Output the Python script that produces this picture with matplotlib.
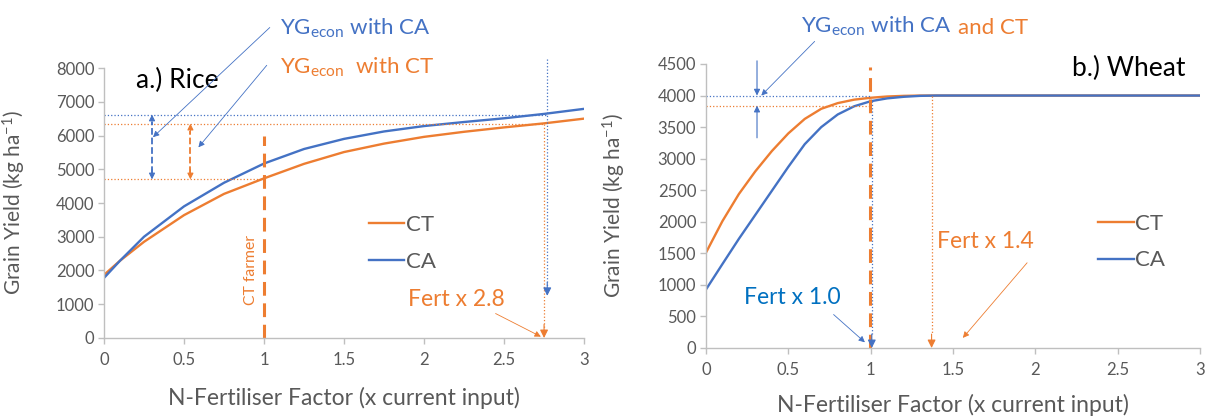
import numpy as np
import matplotlib
matplotlib.use("Agg")
import matplotlib.pyplot as plt

plt.rcParams['font.family'] = ['Lato', 'DejaVu Sans']
plt.rcParams['mathtext.fontset'] = 'custom'
plt.rcParams['mathtext.rm'] = 'Lato'
plt.rcParams['mathtext.default'] = 'regular'

# ---- data ----
rice_x = [0, 0.1, 0.25, 0.5, 0.75, 1, 1.25, 1.5, 1.75, 2, 2.25, 2.5, 2.75, 3]
rice_ct = [1870, 2290, 2850, 3640, 4270, 4730, 5160, 5510, 5760, 5960, 6110, 6240, 6360, 6500]
rice_ca = [1780, 2290, 3000, 3900, 4600, 5170, 5600, 5900, 6120, 6280, 6400, 6510, 6640, 6790]

wheat_x = [0, 0.1, 0.2, 0.3, 0.4, 0.5, 0.6, 0.7, 0.8, 0.9, 1.0, 1.1, 1.2, 1.3, 1.4, 1.5, 2, 2.5, 3]
wheat_ct = [1510, 2010, 2440, 2800, 3120, 3400, 3630, 3790, 3880, 3935, 3965, 3985, 3995, 4000,
            4000, 4000, 4000, 4000, 4000]
wheat_ca = [926, 1330, 1730, 2110, 2490, 2870, 3230, 3500, 3700, 3830, 3910, 3955, 3980, 3995,
            4000, 4000, 4000, 4000, 4000]

ORANGE = '#ED7D31'
BLUE = '#4472C4'
BLUE2 = '#0070C0'
GREY = '#595959'
AXC = '#bfbfbf'

fig = plt.figure(figsize=(12.08, 4.18), dpi=100)
ax1 = fig.add_axes([0.0861, 0.1914, 0.3974, 0.6459])
ax2 = fig.add_axes([0.5844, 0.1675, 0.4090, 0.6794])


def style(ax, ymax, ystep):
    ax.set_xlim(0, 3)
    ax.set_ylim(0, ymax)
    ax.set_xticks([0, 0.5, 1, 1.5, 2, 2.5, 3])
    ax.set_xticklabels(['0', '0.5', '1', '1.5', '2', '2.5', '3'])
    ax.set_yticks(np.arange(0, ymax + 1, ystep))
    for s in ['top', 'right']:
        ax.spines[s].set_visible(False)
    for s in ['left', 'bottom']:
        ax.spines[s].set_color(AXC)
        ax.spines[s].set_linewidth(1)
    ax.tick_params(axis='both', colors=AXC, labelcolor=GREY, labelsize=12, length=4, width=1)
    ax.tick_params(axis='x', pad=6)
    ax.tick_params(axis='y', pad=3)
    ax.set_xlabel('N-Fertiliser Factor (x current input)', fontsize=16.5, color=GREY)
    ax.set_ylabel('Grain Yield (kg ha$^{-1}$)', fontsize=15, color=GREY)


def head(ax, x, y, dx, dy, color, ms=12):
    ax.annotate('', xy=(x, y), xytext=(x + dx, y + dy), annotation_clip=False,
                arrowprops=dict(arrowstyle='-|>', color=color, lw=0.8, mutation_scale=ms,
                                shrinkA=0, shrinkB=0))


def pointer(ax, x0, y0, x1, y1, color):
    ax.annotate('', xy=(x1, y1), xytext=(x0, y0), annotation_clip=False,
                arrowprops=dict(arrowstyle='-|>', color=color, lw=0.6, mutation_scale=9,
                                shrinkA=0, shrinkB=0))


# ---------------- a.) Rice ----------------
style(ax1, 8000, 1000)
ax1.plot(rice_x, rice_ct, color=ORANGE, lw=1.7, label='CT')
ax1.plot(rice_x, rice_ca, color=BLUE, lw=1.7, label='CA')
ax1.legend(loc='upper left', bbox_to_anchor=(0.51, 0.53), frameon=False, fontsize=16,
           handlelength=1.6, handletextpad=0.05, labelspacing=0.75, labelcolor=GREY)

# reference dotted lines
ax1.plot([0, 2.77], [6620, 6620], ':', color=BLUE, lw=0.9)
ax1.plot([0, 2.75], [6350, 6350], ':', color=ORANGE, lw=0.9)
ax1.plot([0, 1.0], [4700, 4700], ':', color=ORANGE, lw=0.9)
ax1.plot([2.77, 2.77], [8270, 1500], ':', color=BLUE, lw=0.9, clip_on=False)
head(ax1, 2.77, 1250, 0, 400, BLUE)
ax1.plot([2.75, 2.75], [6350, 300], ':', color=ORANGE, lw=0.9)
head(ax1, 2.75, 0, 0, 400, ORANGE)

# yield gap double arrows
ax1.plot([0.3, 0.3], [4900, 6400], '--', color=BLUE, lw=1.3)
head(ax1, 0.3, 6620, 0, -300, BLUE, 9)
head(ax1, 0.3, 4700, 0, 300, BLUE, 9)
ax1.plot([0.54, 0.54], [4900, 6130], '--', color=ORANGE, lw=1.3)
head(ax1, 0.54, 6350, 0, -300, ORANGE, 9)
head(ax1, 0.54, 4700, 0, 300, ORANGE, 9)

# farmer practice
ax1.plot([1, 1], [0, 6000], color=ORANGE, lw=2.2, dashes=(4.5, 2.5))
ax1.text(0.92, 2000, 'CT farmer', rotation=90, color=ORANGE, fontsize=11.3,
         ha='center', va='center')

ax1.text(0.2, 7640, 'a.) Rice', fontsize=19, color='black', ha='left', va='center')
ax1.text(1.1, 9185, 'YG$_{econ}$ with CA', fontsize=16, color=BLUE, ha='left',
         va='center', clip_on=False)
ax1.text(1.1, 8030, 'YG$_{econ}$  with CT', fontsize=16, color=ORANGE, ha='left',
         va='center', clip_on=False)
pointer(ax1, 1.036, 9200, 0.306, 5950, BLUE)
pointer(ax1, 1.017, 8080, 0.59, 5650, BLUE)

ax1.text(1.9, 1155, 'Fert x 2.8', fontsize=16.5, color=ORANGE, ha='left', va='center')
pointer(ax1, 2.447, 725, 2.73, 40, ORANGE)

ax1.yaxis.set_label_coords(-0.158, 0.5)
ax1.xaxis.set_label_coords(0.5, -0.18)

# ---------------- b.) Wheat ----------------
style(ax2, 4500, 500)
ax2.plot(wheat_x, wheat_ct, color=ORANGE, lw=1.7, label='CT')
ax2.plot(wheat_x, wheat_ca, color=BLUE, lw=1.7, label='CA')
ax2.legend(loc='upper left', bbox_to_anchor=(0.753, 0.543), frameon=False, fontsize=16,
           handlelength=1.6, handletextpad=0.05, labelspacing=0.75, labelcolor=GREY)

ax2.plot([0, 1.0], [4000, 4000], ':', color=BLUE, lw=0.9)
ax2.plot([0, 1.0], [3840, 3840], ':', color=ORANGE, lw=0.9)
ax2.plot([1.37, 1.37], [4000, 220], ':', color=ORANGE, lw=0.9)
head(ax2, 1.37, 0, 0, 220, ORANGE)
ax2.plot([1.007, 1.007], [3910, 220], ':', color=BLUE, lw=0.9)
head(ax2, 1.007, 0, 0, 220, BLUE)

ax2.plot([0.995, 0.995], [0, 4450], color=ORANGE, lw=2.2, dashes=(4.5, 2.5))

head(ax2, 0.31, 4000, 0, 550, BLUE, 9)
head(ax2, 0.31, 3840, 0, -510, BLUE, 9)

t1 = ax2.text(0.58, 5090, 'YG$_{econ}$ with CA', fontsize=16, color=BLUE, ha='left',
              va='center', clip_on=False)
ax2.annotate('and CT', xy=(1, 0), xycoords=t1, xytext=(4, 0), textcoords='offset points',
             fontsize=16, color=ORANGE, ha='left', va='bottom', annotation_clip=False)
pointer(ax2, 0.66, 4858, 0.336, 4000, BLUE)

ax2.text(2.91, 4430, 'b.) Wheat', fontsize=19, color='black', ha='right', va='center')
ax2.text(0.23, 800, 'Fert x 1.0', fontsize=16.5, color=BLUE2, ha='left', va='center')
pointer(ax2, 0.775, 530, 0.965, 90, BLUE)
ax2.text(1.40, 1680, 'Fert x 1.4', fontsize=16.5, color=ORANGE, ha='left', va='center')
pointer(ax2, 1.95, 1350, 1.56, 160, ORANGE)

ax2.yaxis.set_label_coords(-0.158, 0.5)
ax2.xaxis.set_label_coords(0.5, -0.163)

fig.savefig('out.png', dpi=100)
